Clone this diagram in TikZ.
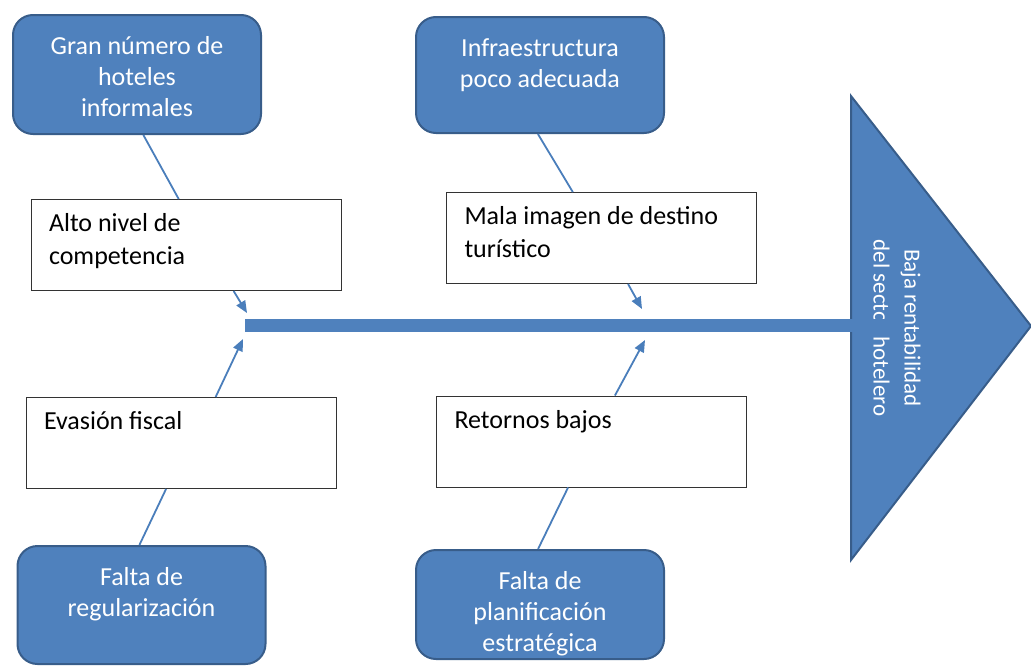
\documentclass[tikz,border=0pt]{standalone}
\usepackage{fontspec}
\setmainfont{Carlito}
\usetikzlibrary{arrows.meta}

\definecolor{azul}{RGB}{79,129,189}
\definecolor{azulborde}{RGB}{56,93,138}
\definecolor{azullinea}{RGB}{74,126,187}

\newcommand{\textoazul}[2]{\parbox[c][#1pt][t]{224pt}{\centering\strut #2}}
\newcommand{\textoblanco}[1]{\parbox[c][73pt][t]{274pt}{\raggedright\strut #1}}

\tikzset{
  causa/.style={rectangle, rounded corners=20pt, fill=azul, draw=azulborde,
    line width=2pt, text=white, inner xsep=12pt, inner ysep=18pt,
    font=\fontsize{26}{31}\selectfont},
  efecto/.style={rectangle, draw=black!80, line width=0.9pt, fill=white,
    inner xsep=18pt, inner ysep=9pt, font=\fontsize{26}{33}\selectfont},
  enlace/.style={azullinea, line width=1.8pt},
  flecha/.style={enlace, -{Triangle[length=12pt,width=10pt]}},
}

\begin{document}
\begin{tikzpicture}[x=1pt, y=-1pt]
  \clip (0,0) rectangle (1031,667);

  % cabeza del pescado
  \draw[fill=azul, draw=azulborde, line width=2pt]
    (851,96) -- (1031,326) -- (851,560) -- cycle;
  \node[rotate=-90, align=center, text=white, font=\fontsize{23}{31}\selectfont]
    (problema) at (897,328) {Baja rentabilidad\\del sector hotelero};

  % espina
  \coordinate (inicio) at (245,325);
  \coordinate (fin) at (890,325);
  \draw[azul, line width=13pt] (inicio) -- (fin);
  \coordinate (p1a) at (247,313);
  \coordinate (p1b) at (243,339);
  \coordinate (p2a) at (642,309);
  \coordinate (p2b) at (645,340);

  % primera columna
  \node[causa]  (gran)    at (137,74.5) {\textoazul{83}{Gran número de\\hoteles\\informales}};
  \node[efecto] (alto)    at (186,245)  {\textoblanco{Alto nivel de\\competencia}};
  \node[efecto] (evasion) at (181,443)  {\textoblanco{Evasión fiscal}};
  \node[causa]  (regul)   at (141.5,605) {\textoazul{82}{Falta de\\regularización}};

  \draw[enlace] (gran.-84) -- (alto.99);
  \draw[flecha] (alto.-44) -- (p1a);
  \draw[flecha] (evasion.53) -- (p1b);
  \draw[enlace] (regul.92) -- (evasion.-108);

  % segunda columna
  \node[causa]  (infra)    at (540,75)    {\textoazul{80}{Infraestructura\\poco adecuada}};
  \node[efecto] (mala)     at (601.5,238) {\textoblanco{Mala imagen de destino\\turístico}};
  \node[efecto] (retornos) at (591.5,441.5) {\textoblanco{Retornos bajos}};
  \node[causa]  (plan)     at (540,604.5) {\textoazul{73}{Falta de\\planificación\\estratégica}};

  \draw[enlace] (infra.-92) -- (mala.122);
  \draw[flecha] (mala.-60) -- (p2a);
  \draw[flecha] (retornos.63) -- (p2b);
  \draw[enlace] (plan.92) -- (retornos.-117);
\end{tikzpicture}
\end{document}
